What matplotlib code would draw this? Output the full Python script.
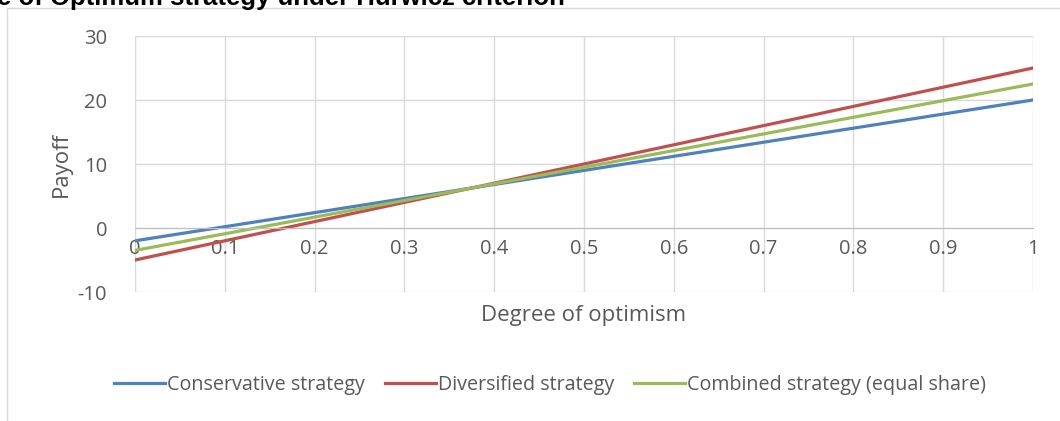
import numpy as np
import matplotlib
matplotlib.use("Agg")
import matplotlib.pyplot as plt
from matplotlib.patches import Rectangle

# data
optimism = [0, 0.1, 0.2, 0.3, 0.4, 0.5, 0.6, 0.7, 0.8, 0.9, 1]
conservative = [-2, 0.2, 2.4, 4.6, 6.8, 9, 11.2, 13.4, 15.6, 17.8, 20]
diversified = [-5, -2, 1, 4, 7, 10, 13, 16, 19, 22, 25]
combined = [-3.5, -0.9, 1.7, 4.3, 6.9, 9.5, 12.1, 14.7, 17.3, 19.9, 22.5]
series_names = ["Conservative strategy", "Diversified strategy",
                "Combined strategy (equal share)"]
x_ticks = [0, 0.1, 0.2, 0.3, 0.4, 0.5, 0.6, 0.7, 0.8, 0.9, 1]
x_labels = ["0", "0.1", "0.2", "0.3", "0.4", "0.5", "0.6", "0.7", "0.8", "0.9", "1"]
y_ticks = [-10, 0, 10, 20, 30]

plt.rcParams['font.family'] = ['Open Sans', 'DejaVu Sans']
plt.rcParams['axes.unicode_minus'] = False
txt_col = "#595959"
grid_col = "#d9d9d9"

fig = plt.figure(figsize=(10.6, 4.21), dpi=100)

# chart border (partly cut off in the reference)
fig.patches.append(Rectangle((7 / 1060, -0.01), 1.2, 1 - 8 / 421 + 0.01,
                             transform=fig.transFigure, fill=False,
                             edgecolor="#d9d9d9", lw=1))

# title, cut off at the top edge as in the reference
fig.text(-0.003, 1 + 2 / 421, "e of Optimum strategy under Hurwicz criterion",
         fontsize=18.5, fontweight="bold", family="Liberation Sans",
         ha="left", va="center")

ax = fig.add_axes([135 / 1060, 1 - 292 / 421, 898 / 1060, 256 / 421])

ax.plot(optimism, conservative, color="#4F81BD", lw=2.3, label=series_names[0])
ax.plot(optimism, diversified, color="#C0504D", lw=2.3, label=series_names[1])
ax.plot(optimism, combined, color="#9BBB59", lw=2.3, label=series_names[2])

ax.set_xlim(0, 1)
ax.set_ylim(-10, 30)
ax.set_xticks(x_ticks)
ax.set_xticklabels(x_labels)
ax.set_yticks(y_ticks)
ax.grid(True, color=grid_col, lw=1)
ax.set_axisbelow(True)

for s in ["top", "right", "left"]:
    ax.spines[s].set_visible(False)
ax.spines["bottom"].set_position(("data", 0))
ax.spines["bottom"].set_color("#bfbfbf")
ax.tick_params(length=0, labelsize=14.5, colors=txt_col)
ax.tick_params(axis="y", pad=20)
ax.tick_params(axis="x", pad=8)

ax.set_ylabel("Payoff", fontsize=16, color=txt_col, labelpad=4)
fig.text((135 + 1033) / 2 / 1060, 1 - 316 / 421, "Degree of optimism",
         fontsize=16, color=txt_col, ha="center", va="center")

leg = fig.legend(loc="center", bbox_to_anchor=(550 / 1060, 1 - 385 / 421), ncol=3,
                 frameon=False, fontsize=14.2, handlelength=2.6,
                 handletextpad=0.1, columnspacing=1.0)
for t in leg.get_texts():
    t.set_color(txt_col)

fig.savefig("out.png", dpi=100)
